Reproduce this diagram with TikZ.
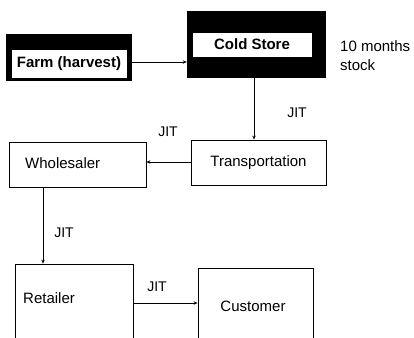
\documentclass[tikz,border=0pt]{standalone}
\usepackage{fontspec}
\setmainfont{Liberation Sans}
\usetikzlibrary{arrows.meta,calc}
\begin{document}
\begin{tikzpicture}[x=1pt,y=-1pt,
  boxtxt/.style={font=\fontsize{15}{17}\selectfont},
  jit/.style={font=\fontsize{14}{16}\selectfont},
  blackbox/.style={fill=black,draw=black,inner sep=0pt},
  whitebox/.style={fill=white,draw=white,inner sep=0pt,font=\fontsize{15}{17}\selectfont\bfseries},
  plainbox/.style={draw=black,line width=0.8pt,inner sep=0pt},
  arr/.style={draw=black,line width=0.8pt,-{Stealth[length=4pt,width=3.5pt]}}]
\useasboundingbox (0,0) rectangle (414,337);
\clip (0,0) rectangle (414,337);
\fill[white] (0,0) rectangle (414,337);
% Farm
\node[blackbox,minimum width=125pt,minimum height=46pt] (farm) at (68.5,57) {};
\node[whitebox,minimum width=114pt,minimum height=27pt] (farmin) at (69,63.5) {Farm (harvest)};
% Cold store
\node[blackbox,minimum width=138pt,minimum height=66pt] (cold) at (256,44) {};
\node[whitebox,minimum width=118pt,minimum height=23pt] (coldin) at (252,44.5) {Cold Store};
\node[boxtxt,anchor=west,inner sep=0pt] (months) at (340,46) {10 months};
\node[boxtxt,anchor=west,inner sep=0pt] (stock) at (340,65) {stock};
% Transportation
\node[plainbox,boxtxt,minimum width=135pt,minimum height=45pt] (trans) at (258.5,162.5) {Transportation};
% Wholesaler
\node[plainbox,minimum width=137pt,minimum height=45pt] (whole) at (77.5,164.5) {};
\node[boxtxt,anchor=west,inner sep=0pt] (wholet) at (25,163) {Wholesaler};
% Retailer
\node[plainbox,minimum width=118pt,minimum height=100pt] (retail) at (74,314) {};
\node[boxtxt,anchor=west,inner sep=0pt] (retailt) at (23,298) {Retailer};
% Customer
\node[plainbox,minimum width=115pt,minimum height=100pt] (cust) at (255.5,318) {};
\node[boxtxt,inner sep=0pt] (custt) at (253,306) {Customer};
% connectors
\coordinate (fa) at (farm.east |- 0,62);
\draw[arr] (fa) -- (fa -| cold.west);
\coordinate (ca) at (254,77);
\draw[arr] (ca) -- (ca |- trans.north);
\coordinate (ta) at (trans.west |- 0,162);
\draw[arr] (ta) -- (ta -| whole.east);
\coordinate (wa) at (43,187);
\draw[arr] (wa) -- (wa |- retail.north);
\coordinate (ra) at (retail.east |- 0,303);
\draw[arr] (ra) -- (ra -| cust.west);
% labels
\node[jit] (j1) at (297,113) {JIT};
\node[jit] (j2) at (168,132) {JIT};
\node[jit] (j3) at (64,233) {JIT};
\node[jit] (j4) at (157,287) {JIT};
\end{tikzpicture}
\end{document}
